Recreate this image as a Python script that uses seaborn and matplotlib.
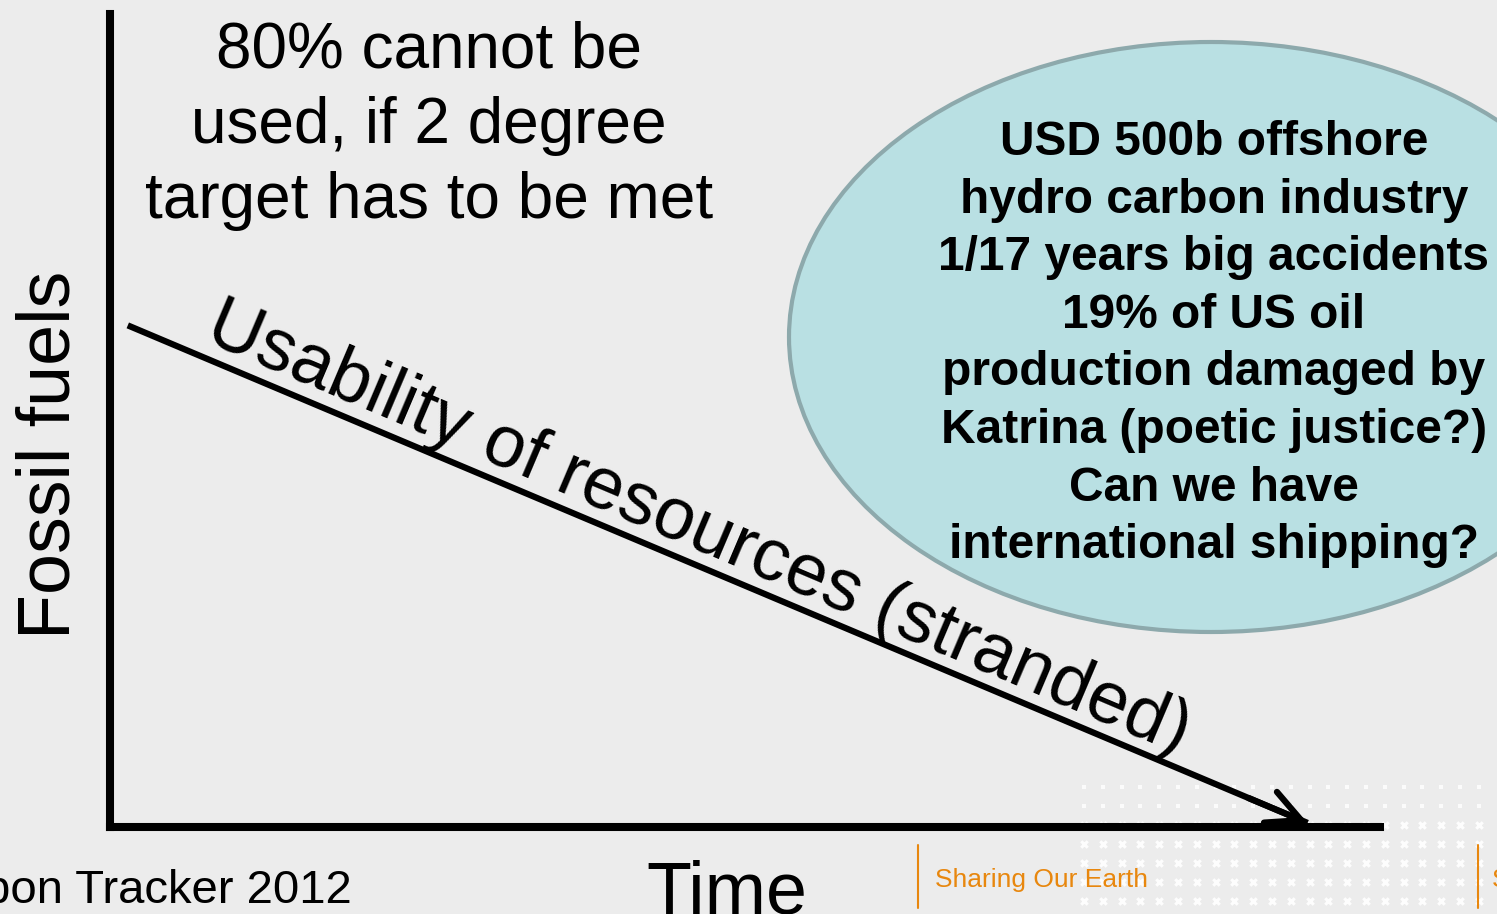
import numpy as np
import seaborn as sns
import matplotlib.pyplot as plt
from matplotlib.patches import Ellipse

# declining usable share of fossil fuels over time (axis units 0-100)
time = [1.4, 94.3]
usability = [61.7, 0.5]

headline = ["80% cannot be", "used, if 2 degree", "target has to be met"]
bubble_lines = ["USD 500b offshore", "hydro carbon industry",
                "1/17 years big accidents", "19% of US oil",
                "production damaged by", "Katrina (poetic justice?)",
                "Can we have", "international shipping?"]
line_label = "Usability of resources (stranded)"
x_label = "Time"
y_label = "Fossil fuels"
source = "Carbon Tracker 2012"
footer = "Sharing Our Earth"

BG = "#ececec"
ORANGE = "#e8870e"
W, H = 1497, 914

sns.set_theme(style="white")
plt.rcParams['font.family'] = ['Liberation Sans', 'DejaVu Sans']

fig = plt.figure(figsize=(W / 100, H / 100), dpi=100, facecolor=BG)

# background layer in pixel coordinates (slide decoration)
bg = fig.add_axes([0, 0, 1, 1], zorder=0)
bg.set_xlim(0, W)
bg.set_ylim(H, 0)
bg.axis('off')

# faint dot pattern bottom right
for k, yy in enumerate(np.arange(787, H, 19)):
    xs = np.arange(1084, W, 18.8)
    if k < 2:
        bg.scatter(xs, np.full_like(xs, yy), marker='s', s=6, color='white',
                   alpha=0.8, linewidths=0)
    else:
        bg.scatter(xs, np.full_like(xs, yy), marker='x', s=22, color='white',
                   alpha=0.9, linewidths=2.2)

# bubble
bg.add_patch(Ellipse((1211, 337), 844, 590, facecolor='#b9e0e3',
                     edgecolor='#8da9ac', lw=3))
for i, line in enumerate(bubble_lines):
    bg.text(1214, 155 + i * 57.6, line, ha='center', va='baseline',
            fontsize=34.5, fontweight='bold', color='black')

for i, line in enumerate(headline):
    bg.text(429, 67 + i * 75.5, line, ha='center', va='baseline',
            fontsize=46, color='black')

bg.text(352, 903, source, ha='right', va='baseline', fontsize=34, color='black')

# footer
bg.plot([918, 918], [845, 908], color=ORANGE, lw=1.5)
bg.plot([1478, 1478], [845, 908], color=ORANGE, lw=1.5)
bg.text(935, 887, footer, ha='left', va='baseline', fontsize=19, color=ORANGE)
bg.text(1492, 887, footer, ha='left', va='baseline', fontsize=19, color=ORANGE)

# main axes
ax = fig.add_axes([110 / W, (H - 827) / H, 1270 / W, 813 / H], zorder=1)
ax.set_facecolor('none')
ax.set_xlim(0, 100)
ax.set_ylim(0, 100)
ax.set_xticks([])
ax.set_yticks([])
for side in ['top', 'right']:
    ax.spines[side].set_visible(False)
for side in ['left', 'bottom']:
    ax.spines[side].set_linewidth(5.8)
    ax.spines[side].set_color('black')
    ax.spines[side].set_capstyle('projecting')

sns.lineplot(x=time, y=usability, ax=ax, color='black', lw=4.5,
             solid_capstyle='butt')
tail = (time[0] + 0.95 * (time[1] - time[0]),
        usability[0] + 0.95 * (usability[1] - usability[0]))
ax.annotate("", xy=(time[1], usability[1]), xytext=tail,
            arrowprops=dict(arrowstyle='->', lw=4.5, mutation_scale=60,
                            shrinkA=0, shrinkB=0, color='black'))

mid = (np.mean(time), np.mean(usability))
ax.annotate(line_label, xy=mid, xytext=(-19, 19), textcoords='offset points',
            rotation=-23, rotation_mode='anchor', ha='center', va='baseline',
            fontsize=53, color='black')

# axis titles
ax.text((727 - 110) / 1270, -(913 - 827) / 813, x_label, transform=ax.transAxes,
        ha='center', va='baseline', fontsize=53, color='black', clip_on=False)
ax.text((70 - 110) / 1270, (827 - 455) / 813, y_label, transform=ax.transAxes,
        ha='center', va='baseline', rotation=90, rotation_mode='anchor',
        fontsize=53, color='black', clip_on=False)

fig.savefig("out.png", dpi=100, facecolor=BG)
